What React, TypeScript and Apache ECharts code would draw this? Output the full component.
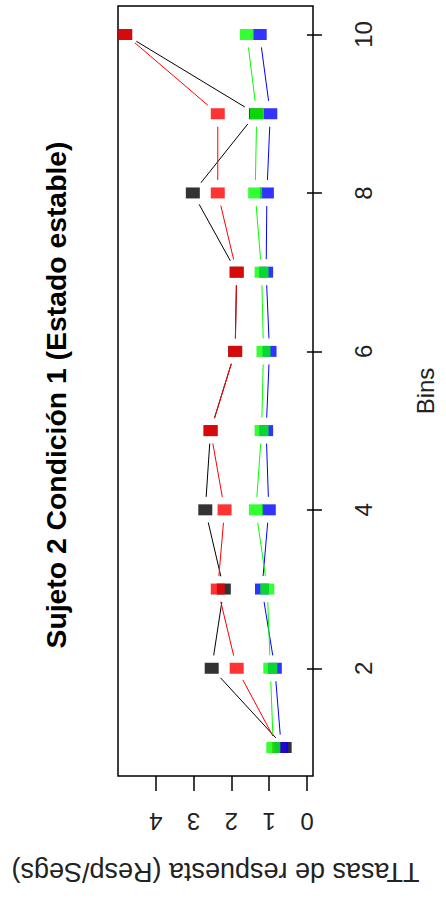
import { useEffect, useRef } from 'react';
import * as echarts from 'echarts';

// Response rates per bin, one array per condition colour
const bins = [1, 2, 3, 4, 5, 6, 7, 8, 9, 10];
const rateBlack = [0.59, 2.52, 2.2, 2.69, 2.55, 1.9, 1.86, 3.02, 1.35, 4.81];
const rateRed = [0.74, 1.86, 2.36, 2.18, 2.55, 1.9, 1.86, 2.36, 2.36, 4.81];
const rateBlue = [0.68, 0.85, 1.19, 1.01, 1.08, 0.99, 1.08, 1.06, 0.97, 1.25];
const rateGreen = [0.89, 0.97, 1.05, 1.35, 1.2, 1.15, 1.2, 1.37, 1.33, 1.59];

const rateTicks = [0, 1, 2, 3, 4];
const binTicks = [2, 4, 6, 8, 10];

const titleText = 'Sujeto 2 Condición 1 (Estado estable)';
const rateAxisName = 'TTasas de respuesta (Resp/Segs)';
const binAxisName = 'Bins';

const FONT = '"Liberation Sans", Arial, sans-serif';

type Trace = { values: number[]; color: string };
const traces: Trace[] = [
  { values: rateBlack, color: '#000000' },
  { values: rateRed, color: '#ff0000' },
  { values: rateBlue, color: '#0000ff' },
  { values: rateGreen, color: '#00ff00' },
];

// Gap left between a connecting segment and each point (R type = "b")
const GAP = 13;

function buildSeries() {
  const out: any[] = [];
  let z = 2;
  traces.forEach((t) => {
    const segs: number[][] = [];
    for (let i = 0; i < bins.length - 1; i++) {
      segs.push([t.values[i], bins[i], t.values[i + 1], bins[i + 1]]);
    }
    out.push({
      type: 'custom',
      z: z++,
      silent: true,
      data: segs,
      encode: { x: [0, 2], y: [1, 3] },
      renderItem: (_p: any, api: any) => {
        const a = api.coord([api.value(0), api.value(1)]);
        const b = api.coord([api.value(2), api.value(3)]);
        const dx = b[0] - a[0];
        const dy = b[1] - a[1];
        const len = Math.sqrt(dx * dx + dy * dy);
        if (len <= 2 * GAP) return null;
        const ux = dx / len;
        const uy = dy / len;
        return {
          type: 'line',
          shape: {
            x1: a[0] + ux * GAP,
            y1: a[1] + uy * GAP,
            x2: b[0] - ux * GAP,
            y2: b[1] - uy * GAP,
          },
          style: { stroke: t.color, lineWidth: 1 },
        };
      },
    });
    out.push({
      type: 'scatter',
      z: z++,
      silent: true,
      symbol: 'rect',
      symbolSize: [14, 11],
      itemStyle: { color: t.color },
      data: t.values.map((v, i) => [v, bins[i]]),
    });
  });
  return out;
}

export default function App() {
  const ref = useRef<HTMLDivElement>(null);

  useEffect(() => {
    if (!ref.current) return;
    const chart = echarts.init(ref.current, null, { renderer: 'svg' });
    chart.setOption({
      animation: false,
      backgroundColor: '#ffffff',
      grid: {
        left: 118,
        right: 133,
        top: 6,
        bottom: 124,
        show: true,
        borderColor: '#000',
        borderWidth: 1.5,
        backgroundColor: 'transparent',
        containLabel: false,
        outerBoundsMode: 'none',
      },
      xAxis: {
        type: 'value',
        min: -0.16,
        max: 5.0,
        inverse: true,
        position: 'bottom',
        axisLine: { show: false },
        splitLine: { show: false },
        axisTick: {
          show: true,
          length: 15,
          lineStyle: { color: '#000', width: 1.5 },
          customValues: rateTicks,
        },
        axisLabel: {
          rotate: 180,
          customValues: rateTicks,
          fontSize: 24,
          fontFamily: FONT,
          color: '#222',
          margin: 33,
        },
        name: rateAxisName,
        nameLocation: 'middle',
        nameRotate: 180,
        nameGap: 82,
        nameTextStyle: { fontSize: 27, fontFamily: FONT, color: '#222' },
      },
      yAxis: {
        type: 'value',
        min: 0.64,
        max: 10.36,
        position: 'right',
        axisLine: { show: false },
        splitLine: { show: false },
        axisTick: {
          show: true,
          length: 15,
          lineStyle: { color: '#000', width: 1.5 },
          customValues: binTicks,
        },
        axisLabel: {
          rotate: 90,
          customValues: binTicks,
          fontSize: 24,
          fontFamily: FONT,
          color: '#222',
          margin: 38,
        },
        name: binAxisName,
        nameLocation: 'middle',
        nameRotate: 90,
        nameGap: 100,
        nameTextStyle: { fontSize: 24, fontFamily: FONT, color: '#222' },
      },
      graphic: [
        {
          type: 'text',
          x: 57,
          y: 395,
          rotation: Math.PI / 2,
          scaleX: 1.05,
          silent: true,
          style: {
            text: titleText,
            font: `bold 27px ${FONT}`,
            fill: '#000',
            textAlign: 'center',
            textVerticalAlign: 'middle',
            align: 'center',
            verticalAlign: 'middle',
          },
        },
      ],
      series: buildSeries(),
    });
    return () => chart.dispose();
  }, []);

  return (
    <div
      ref={ref}
      style={{ position: 'fixed', left: 0, top: 0, width: 446, height: 900, background: '#fff' }}
    />
  );
}
